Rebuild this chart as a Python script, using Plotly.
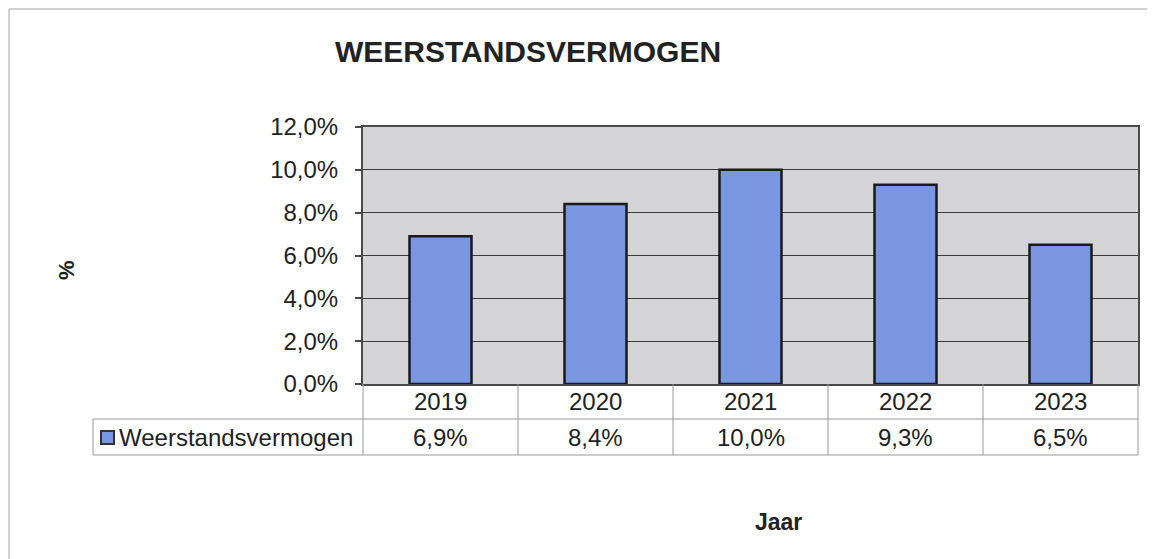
import plotly.graph_objects as go

# ---- data ----
years = ["2019", "2020", "2021", "2022", "2023"]
values = [6.9, 8.4, 10.0, 9.3, 6.5]
series_name = "Weerstandsvermogen"
title_text = "WEERSTANDSVERMOGEN"
x_title = "Jaar"
y_title = "%"
y_ticks = [0, 2, 4, 6, 8, 10, 12]

# ---- layout geometry (target pixels in the screenshot) ----
OFF = 8  # page body margin
W, H = 1155 - OFF, 559 - OFF
L, R, T, B = 363 - OFF, 1138 - OFF, 127 - OFF, 384 - OFF
PW, PH = R - L, B - T

def px(xp):
    return (xp - OFF - L) / PW

def py(yp):
    return (B - (yp - OFF)) / PH

FONT = "Liberation Sans, Arial, sans-serif"
TXT = "#222222"
BAR = "#7b96e0"
TABLE_LINE = "#9a9a9a"

def fmt(v):
    return f"{v:.1f}".replace(".", ",") + "%"

fig = go.Figure()
fig.add_trace(go.Bar(
    x=years, y=values, name=series_name,
    marker=dict(color=BAR, line=dict(color="#1a1a1a", width=2.5)),
    showlegend=False, hoverinfo="skip",
))

shapes = []
annotations = []

# outer chart border (left and top visible)
shapes.append(dict(type="line", xref="paper", yref="paper",
                   x0=px(9), x1=px(9), y0=py(9), y1=py(570),
                   line=dict(color="#c4c4c4", width=1.5)))
shapes.append(dict(type="line", xref="paper", yref="paper",
                   x0=px(9), x1=px(1170), y0=py(9), y1=py(9),
                   line=dict(color="#c4c4c4", width=1.5)))

# data table
row1_bot = 419
row2_bot = 455
n = len(years)
for i in range(n + 1):
    xb = i / n
    shapes.append(dict(type="line", xref="paper", yref="paper",
                       x0=xb, x1=xb, y0=py(384), y1=py(row2_bot),
                       line=dict(color=TABLE_LINE, width=1)))
left_cell = 93
for yy in (row1_bot, row2_bot):
    shapes.append(dict(type="line", xref="paper", yref="paper",
                       x0=px(left_cell), x1=1, y0=py(yy), y1=py(yy),
                       line=dict(color=TABLE_LINE, width=1)))
shapes.append(dict(type="line", xref="paper", yref="paper",
                   x0=px(left_cell), x1=px(left_cell), y0=py(row1_bot), y1=py(row2_bot),
                   line=dict(color=TABLE_LINE, width=1)))
# legend key
shapes.append(dict(type="rect", xref="paper", yref="paper",
                   x0=px(101), x1=px(114), y0=py(431), y1=py(444),
                   fillcolor=BAR, line=dict(color="#333333", width=2)))

for i, (yr, v) in enumerate(zip(years, values)):
    annotations.append(dict(x=i, xref="x", y=py((384 + row1_bot) / 2), yref="paper",
                            text=yr, showarrow=False, xanchor="center", yanchor="middle",
                            font=dict(family=FONT, size=24, color=TXT)))
    annotations.append(dict(x=i, xref="x", y=py((row1_bot + row2_bot) / 2), yref="paper",
                            text=fmt(v), showarrow=False, xanchor="center", yanchor="middle",
                            font=dict(family=FONT, size=24, color=TXT)))
annotations.append(dict(x=px(117), xref="paper", y=py((row1_bot + row2_bot) / 2), yref="paper",
                        text=series_name, showarrow=False, xanchor="left", yanchor="middle",
                        font=dict(family=FONT, size=24, color=TXT)))

# axis titles
annotations.append(dict(x=px(66), xref="paper", y=py(270), yref="paper",
                        text=f"<b>{y_title}</b>", showarrow=False, textangle=-90,
                        xanchor="center", yanchor="middle",
                        font=dict(family=FONT, size=22, color=TXT)))
annotations.append(dict(x=px(778), xref="paper", y=py(522), yref="paper",
                        text=f"<b>{x_title}</b>", showarrow=False,
                        xanchor="center", yanchor="middle",
                        font=dict(family=FONT, size=23, color=TXT)))

fig.update_layout(
    width=W, height=H,
    margin=dict(l=L, r=W - R, t=T, b=H - B, pad=0),
    paper_bgcolor="white",
    plot_bgcolor="#d4d4d7",
    bargap=0.6,
    title=dict(text=f"<b>{title_text}</b>", xref="paper", x=px(528), xanchor="center",
               yref="container", y=1 - (51 - OFF) / H, yanchor="middle",
               font=dict(family=FONT, size=30, color=TXT)),
    shapes=shapes,
    annotations=annotations,
    xaxis=dict(type="category", range=[-0.5, n - 0.5], showticklabels=False,
               showgrid=False, zeroline=False, ticks="",
               showline=True, linecolor="#4a4a4a", linewidth=2, mirror=True),
    yaxis=dict(range=[0, 12], tickvals=y_ticks, ticktext=[fmt(t) for t in y_ticks],
               showgrid=True, gridcolor="#3a3a3a", gridwidth=1,
               zeroline=False, ticks="outside", ticklen=6, tickcolor="#4a4a4a",
               tickwidth=1.5, ticklabelstandoff=12,
               showline=True, linecolor="#4a4a4a", linewidth=2, mirror=True,
               tickfont=dict(family=FONT, size=24, color=TXT)),
)

fig.write_html("out.html")
